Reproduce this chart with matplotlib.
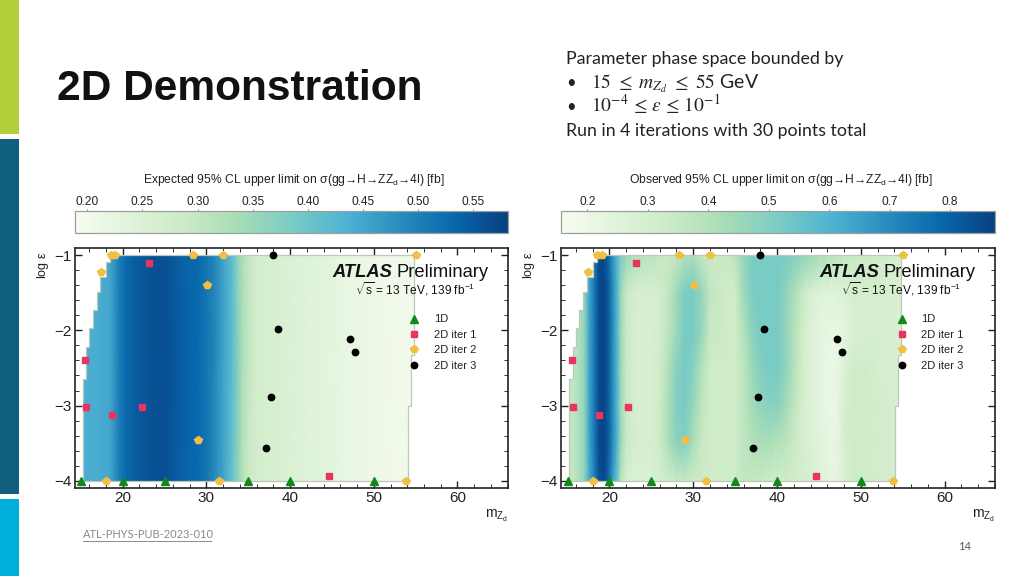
import matplotlib
matplotlib.use('Agg')
import matplotlib.pyplot as plt
import numpy as np
from matplotlib.patches import Polygon, Rectangle
from matplotlib.ticker import MultipleLocator

plt.rcParams['font.family'] = ['Liberation Sans', 'DejaVu Sans']
plt.rcParams['mathtext.fontset'] = 'custom'
plt.rcParams['mathtext.rm'] = 'Liberation Sans'
plt.rcParams['mathtext.it'] = 'Liberation Sans:italic'
plt.rcParams['mathtext.bf'] = 'Liberation Sans:bold'

# expected limit, almost flat in log eps
exp_mass = [15, 17, 18.5, 19.5, 20.5, 21.5, 23, 24, 25, 26, 27, 28, 29, 30, 31, 32, 33, 33.8, 34.3, 35,
            36, 38, 40, 42, 44, 46, 48, 50, 52, 55]
exp_eps = [-1, -2.5, -4]
exp_top = [.44, .44, .45, .50, .53, .545, .555, .56, .56, .55, .54, .535, .53, .515, .49, .455, .42, .36, .33, .30,
           .27, .26, .25, .24, .235, .225, .215, .21, .205, .20]
exp_mid = [.44, .44, .45, .50, .53, .545, .555, .56, .56, .555, .545, .535, .53, .515, .49, .455, .42, .37, .33, .30,
           .27, .26, .25, .24, .23, .225, .215, .21, .205, .20]
exp_bot = [.44, .44, .45, .50, .53, .545, .555, .56, .56, .55, .54, .535, .53, .515, .485, .455, .41, .36, .32, .29,
           .27, .26, .25, .24, .235, .225, .215, .21, .205, .20]

# observed limit
obs_mass = [15, 16, 17, 17.6, 18.2, 18.7, 19.2, 19.8, 20.4, 21, 21.4, 22, 23, 25, 26, 27, 28, 29, 30, 31,
            32, 34, 35, 36, 37, 38, 39, 40, 41, 42, 43, 44, 45, 46, 47, 48, 49, 50, 52, 55]
obs_eps = [-1, -1.5, -2, -2.5, -3, -3.5, -4]
obs_1 = [.34, .38, .47, .64, .74, .84, .86, .80, .68, .58, .52, .46, .40, .38, .36, .35, .36, .40, .42, .36,
         .34, .34, .38, .47, .51, .52, .52, .52, .52, .50, .48, .45, .42, .40, .38, .36, .35, .34, .32, .29]
obs_2 = [.34, .38, .47, .64, .74, .84, .88, .82, .70, .57, .44, .35, .30, .29, .31, .36, .44, .51, .52, .46,
         .36, .33, .33, .44, .51, .52, .52, .52, .48, .42, .35, .29, .26, .25, .25, .27, .29, .30, .30, .28]
obs_3 = [.34, .38, .47, .64, .74, .84, .88, .82, .70, .57, .44, .35, .29, .28, .31, .37, .45, .52, .52, .46,
         .35, .33, .33, .40, .48, .52, .52, .52, .47, .40, .32, .26, .23, .22, .21, .23, .28, .29, .30, .28]
obs_4 = [.34, .38, .47, .64, .74, .84, .88, .82, .70, .57, .44, .35, .29, .28, .32, .40, .49, .52, .49, .40,
         .33, .33, .33, .37, .45, .50, .52, .52, .48, .40, .31, .26, .23, .21, .21, .26, .32, .33, .30, .27]
obs_5 = [.34, .38, .47, .64, .74, .84, .88, .82, .70, .57, .44, .35, .29, .28, .33, .42, .50, .52, .46, .37,
         .33, .33, .33, .37, .43, .47, .49, .49, .44, .37, .30, .26, .23, .21, .21, .29, .33, .33, .31, .29]
obs_6 = [.34, .38, .47, .64, .74, .84, .88, .82, .70, .57, .44, .35, .30, .29, .33, .41, .48, .50, .42, .35,
         .33, .33, .33, .37, .40, .42, .42, .40, .38, .34, .30, .27, .25, .22, .22, .29, .33, .33, .31, .29]
obs_7 = [.34, .38, .47, .62, .72, .82, .86, .80, .66, .52, .38, .30, .27, .28, .30, .33, .35, .35, .34, .33,
         .33, .33, .33, .36, .36, .35, .33, .33, .32, .31, .30, .29, .26, .23, .22, .27, .32, .33, .31, .29]

# scan boundary
edge_eps = [-1, -1.09, -1.29, -1.49, -1.73, -1.97, -2.22, -2.64, -4]
edge_left = [18.5, 18.0, 17.3, 16.9, 16.4, 16.0, 15.6, 15.2]
edge_right_eps = [-1, -2.33, -3, -4]
edge_right = [54.75, 54.4, 54.05]

# scan points
d1_m = [15, 20, 25, 35, 40, 50]
d1_e = [-4, -4, -4, -4, -4, -4]
it1_m = [23.14, 15.5, 15.6, 18.7, 22.27, 44.66]
it1_e = [-1.11, -2.40, -3.02, -3.12, -3.02, -3.93]
it2_m = [18.56, 19.1, 28.36, 32.0, 55, 17.45, 30.08, 29, 18, 31.47, 53.8]
it2_e = [-1, -1, -1, -1, -1, -1.23, -1.40, -3.45, -4, -4, -4]
it3_m = [38, 38.5, 47.1, 47.8, 37.7, 37.1]
it3_e = [-1, -1.98, -2.12, -2.29, -2.88, -3.56]

W, H = 1024, 576


def px_axes(x0, y0, x1, y1):
    return fig.add_axes([x0 / W, 1 - y1 / H, (x1 - x0) / W, (y1 - y0) / H])


def boundary():
    pts = []
    for i, x in enumerate(edge_left):
        pts.append((x, edge_eps[i]))
        pts.append((x, edge_eps[i + 1]))
    for i in range(len(edge_right) - 1, -1, -1):
        pts.append((edge_right[i], edge_right_eps[i + 1]))
        pts.append((edge_right[i], edge_right_eps[i]))
    return pts


def panel(x0, x1, mass, eps, z, vmin, vmax, cb_ticks, cb_fmt, cb_label):
    ax = px_axes(x0, 247.7, x1, 487.7)
    M, E = np.meshgrid(mass, eps)
    mesh = ax.pcolormesh(M, E, np.array(z), cmap='GnBu', vmin=vmin, vmax=vmax, shading='gouraud', zorder=1)
    clip = Polygon(boundary(), closed=True, transform=ax.transData)
    mesh.set_clip_path(clip)
    ax.add_patch(Polygon(boundary(), closed=True, fill=False, edgecolor='#bcc8b8', lw=0.9, zorder=2))

    ax.set_xlim(14.26, 66.0)
    ax.set_ylim(-4.09, -0.903)
    ax.xaxis.set_major_locator(MultipleLocator(10))
    ax.xaxis.set_minor_locator(MultipleLocator(2))
    ax.yaxis.set_major_locator(MultipleLocator(1))
    ax.yaxis.set_minor_locator(MultipleLocator(0.2))
    ax.tick_params(which='major', direction='in', top=True, right=True, length=5, width=1, labelsize=11, pad=2.5,
                   color='#222222', labelcolor='#222222')
    ax.tick_params(which='minor', direction='in', top=True, right=True, length=2.8, width=0.7, color='#333333')
    for s in ax.spines.values():
        s.set_linewidth(1.2)
        s.set_color('#222222')

    ax.plot(d1_m, d1_e, ls='none', marker='^', ms=5.6, color='#118a1c', label='1D', zorder=4)
    ax.plot(it1_m, it1_e, ls='none', marker='s', ms=5, color='#e8345f', label='2D iter 1', zorder=4)
    ax.plot(it2_m, it2_e, ls='none', marker='p', ms=5.8, color='#f2bf45', label='2D iter 2', zorder=4)
    ax.plot(it3_m, it3_e, ls='none', marker='o', ms=4.6, color='black', label='2D iter 3', zorder=4)
    ax.legend(loc='upper left', bbox_to_anchor=(0.759, 0.722), frameon=False, fontsize=8, labelspacing=0.49,
              handletextpad=0.75, borderpad=0, borderaxespad=0, labelcolor='#222222')

    off = x0 - 74.7
    bg.text(332.7 + off, 277, 'ATLAS', fontsize=13.2, fontweight='bold', fontstyle='italic', color='#111111',
            ha='left', va='baseline')
    bg.text(489 + off, 277, 'Preliminary', fontsize=13.2, color='#111111', ha='right', va='baseline')
    bg.text(475 + off, 295, r'$\sqrt{\mathrm{s}}$ = 13 TeV, 139 fb$^{-1}$', fontsize=8.6, color='#111111',
            ha='right', va='baseline')
    bg.text(x0 - 32, 265, r'log $\mathrm{\varepsilon}$', rotation=90, fontsize=9, color='#222222',
            ha='center', va='center', family=['Liberation Sans', 'DejaVu Sans'])
    bg.text(x1 + 0, 516, r'm$_{\mathrm{Z_d}}$', fontsize=10, color='#222222', ha='right', va='center')

    cax = px_axes(x0, 210.7, x1, 233)
    cb = fig.colorbar(mesh, cax=cax, orientation='horizontal')
    cb.set_ticks(cb_ticks)
    cb.set_ticklabels([cb_fmt % t for t in cb_ticks])
    cax.xaxis.set_ticks_position('top')
    cax.tick_params(length=1.5, width=0.6, labelsize=8.6, pad=0.8, color='#777777', labelcolor='#222222')
    cb.outline.set_edgecolor('#9aa09a')
    cb.outline.set_linewidth(0.9)
    bg.text((x0 + x1) / 2 + 3, 179.5, cb_label, fontsize=8.7, color='#222222', ha='center', va='center')


fig = plt.figure(figsize=(W / 100, H / 100), dpi=100, facecolor='white')
bg = fig.add_axes([0, 0, 1, 1])
bg.set_xlim(0, W)
bg.set_ylim(H, 0)
bg.axis('off')
bg.set_zorder(10)

# side bars
bg.add_patch(Rectangle((0, 0), 19, 134, color='#b3cf3c', lw=0))
bg.add_patch(Rectangle((0, 139), 19, 355, color='#115f7f', lw=0))
bg.add_patch(Rectangle((0, 499), 19, 77, color='#00aedb', lw=0))

bg.text(57, 100, '2D Demonstration', fontsize=30.6, fontweight='bold', color='#111111', ha='left', va='baseline')

side = ['Lato', 'DejaVu Sans']
bg.text(566, 64, 'Parameter phase space bounded by', fontsize=12.75, family=side, color='#222222')
bg.text(566, 88, '•', fontsize=12, family=side, color='#222222')
bg.text(591, 88, r'$15\ \leq\ m_{Z_d}\ \leq\ 55$ GeV', fontsize=14, family=side, color='#222222', math_fontfamily='stix')
bg.text(566, 112, '•', fontsize=12, family=side, color='#222222')
bg.text(591, 112, r'$10^{-4}\,\leq\,\epsilon\,\leq\,10^{-1}$', fontsize=14, color='#222222', math_fontfamily='stix')
bg.text(566, 136, 'Run in 4 iterations with 30 points total', fontsize=12.75, family=side, color='#222222')

panel(74.7, 507.7, exp_mass, exp_eps, [exp_top, exp_mid, exp_bot], 0.1886, 0.581,
      [.20, .25, .30, .35, .40, .45, .50, .55], '%.2f',
      r'Expected 95% CL upper limit on σ(gg→H→ZZ$_{\mathrm{d}}$→4l) [fb]')
panel(561.3, 995, obs_mass, obs_eps, [obs_1, obs_2, obs_3, obs_4, obs_5, obs_6, obs_7], 0.157, 0.874,
      [.2, .3, .4, .5, .6, .7, .8], '%.1f',
      r'Observed 95% CL upper limit on σ(gg→H→ZZ$_{\mathrm{d}}$→4l) [fb]')

bg.text(83, 538, 'ATL-PHYS-PUB-2023-010', fontsize=8, family=side, color='#8a8a8a')
bg.plot([83, 211], [541, 541], color='#8a8a8a', lw=0.7)
bg.text(965, 546, '14', fontsize=8, family=side, color='#555555', ha='center', va='center')

fig.savefig('out.png', dpi=100)
